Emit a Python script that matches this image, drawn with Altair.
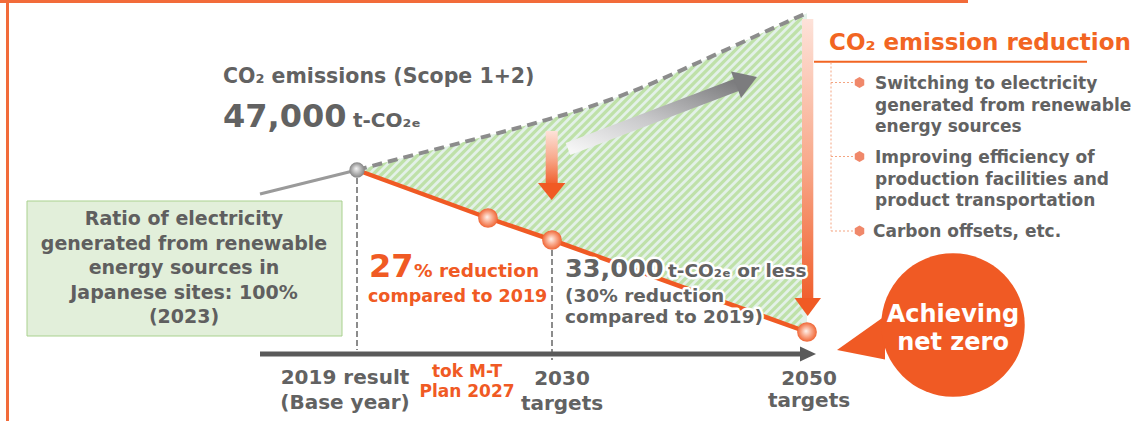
import altair as alt
import numpy as np
import pandas as pd

W, H = 1139, 421

# ---------------- data (diagram units: x along the timeline, y down the page) ----------------
past_x = [260, 357]
past_y = [194, 170]

bau_x = [357, 400, 460, 540, 590, 640, 700, 780, 807]
bau_y = [170, 158.5, 143, 121.7, 106.7, 88.3, 61.7, 25, 13]

target_x = [357, 488, 552, 807]
target_y = [170, 218, 240, 332]

milestone_x = [357, 552]
milestone_top = [178, 250]
milestone_bot = [350, 360]

axis_x = [260, 802]
axis_y = 354

bullet_y = [82.5, 156.5, 231]

ORANGE = "#f05a24"
GRAY = "#626262"
FONT = "DejaVu Sans"

xs = alt.Scale(domain=[0, W], nice=False, zero=False)
ys = alt.Scale(domain=[H, 0], nice=False, zero=False)


def X(f="x"):
    return alt.X(f"{f}:Q", scale=xs, axis=None)


def Y(f="y"):
    return alt.Y(f"{f}:Q", scale=ys, axis=None)


layers = []

# green box
box = pd.DataFrame({"x": [27], "x2": [342], "y": [201], "y2": [336]})
layers.append(alt.Chart(box).mark_rect(fill="#e2efda", stroke="#a9d18e", strokeWidth=1).encode(
    x=X(), x2="x2:Q", y=Y(), y2="y2:Q"))

# reduction area: pale background
bau = pd.DataFrame({"x": bau_x, "y": bau_y, "floor": [338] * len(bau_x)})
layers.append(alt.Chart(bau).mark_area(color="#e3f1e8", opacity=1).encode(x=X(), y=Y(), y2="floor:Q"))

# hatch stripes (decoration) inside the bounding box, then masked
hx0, hx1, hy0, hy1 = 357, 802, 12, 336
rows = []
for c in np.arange(hx0 + hy0, hx1 + hy1, 8.5):
    xa = max(hx0, c - hy1)
    xb = min(hx1, c - hy0)
    if xb > xa:
        rows.append({"x": xa, "y": c - xa, "x2": xb, "y2": c - xb})
hatch = pd.DataFrame(rows)
layers.append(alt.Chart(hatch).mark_rule(color="#bfe1a9", strokeWidth=3.2).encode(
    x=X(), y=Y(), x2="x2:Q", y2="y2:Q"))

# white masks above the BAU curve and below the target path (extended a little to the left)
mask_top = pd.DataFrame({"x": [346] + bau_x, "y": [173] + bau_y, "top": [0] * (len(bau_x) + 1)})
layers.append(alt.Chart(mask_top).mark_area(color="white", opacity=1).encode(x=X(), y=Y(), y2="top:Q"))
tgt = pd.DataFrame({"x": target_x, "y": target_y})
mask_bot = pd.DataFrame({"x": [346] + target_x, "y": [167] + target_y, "floor": [342] * (len(target_x) + 1)})
layers.append(alt.Chart(mask_bot).mark_area(color="white", opacity=1).encode(x=X(), y=Y(), y2="floor:Q"))

# orange frame (top and left edges)
frame = pd.DataFrame({"x": [0, 7.5], "x2": [968, 7.5], "y": [1.5, 0], "y2": [1.5, 421]})
layers.append(alt.Chart(frame).mark_rule(color="#f26b3a", strokeWidth=3).encode(
    x=X(), x2="x2:Q", y=Y(), y2="y2:Q"))

# milestone dashed verticals
ms = pd.DataFrame({"x": milestone_x, "y": milestone_top, "y2": milestone_bot})
layers.append(alt.Chart(ms).mark_rule(color="#8c8c8c", strokeWidth=2, strokeDash=[6, 3]).encode(
    x=X(), y=Y(), y2="y2:Q"))

# past trend line
past = pd.DataFrame({"x": past_x, "y": past_y})
layers.append(alt.Chart(past).mark_line(color="#9a9a9a", strokeWidth=3).encode(x=X(), y=Y()))

# BAU dashed curve
layers.append(alt.Chart(bau).mark_line(color="#8c8c8c", strokeWidth=4, strokeDash=[10, 6],
                                       interpolate="monotone").encode(x=X(), y=Y()))

# target path
layers.append(alt.Chart(tgt).mark_line(color=ORANGE, strokeWidth=4.5).encode(x=X(), y=Y()))

# timeline axis + arrowhead
ax = pd.DataFrame({"x": [axis_x[0]], "x2": [axis_x[1]], "y": [axis_y]})
layers.append(alt.Chart(ax).mark_rule(color="#5a5a5a", strokeWidth=5).encode(x=X(), x2="x2:Q", y=Y()))
axh = pd.DataFrame({"x": [800, 816], "y": [346.5, 354], "y2": [361.5, 354]})
layers.append(alt.Chart(axh).mark_area(color="#5a5a5a", opacity=1).encode(x=X(), y=Y(), y2="y2:Q"))

# gray gradient arrow
gshaft = pd.DataFrame({"x": [568, 739], "y": [149, 84]})
layers.append(alt.Chart(gshaft).mark_line(
    strokeWidth=13, strokeCap="butt",
    stroke=alt.Gradient(gradient="linear", x1=0, y1=1, x2=1, y2=0,
                        stops=[alt.GradientStop(offset=0, color="#f6f6f6"),
                               alt.GradientStop(offset=0.45, color="#c9c9cb"),
                               alt.GradientStop(offset=1, color="#7c7c7e")])).encode(x=X(), y=Y()))
ghead = pd.DataFrame({"x": [731, 741, 757], "y": [71.5, 73.6, 77], "y2": [71.5, 98, 77]})
layers.append(alt.Chart(ghead).mark_area(color="#7c7c7e", opacity=1).encode(x=X(), y=Y(), y2="y2:Q"))

# orange gradient arrows (small at 2030, large at 2050)
shafts = pd.DataFrame({"x": [545.7, 802], "x2": [557.7, 813.3], "y": [131, 19], "y2": [184, 299]})
layers.append(alt.Chart(shafts).mark_rect(
    fill=alt.Gradient(gradient="linear", x1=0, y1=0, x2=0, y2=1,
                      stops=[alt.GradientStop(offset=0, color="#fde2d9"),
                             alt.GradientStop(offset=0.5, color="#f8ab8e"),
                             alt.GradientStop(offset=1, color="#f0602e")])).encode(
    x=X(), x2="x2:Q", y=Y(), y2="y2:Q"))
sh = pd.DataFrame({"x": [538, 551.7, 565.5], "y": [183, 183, 183], "y2": [183, 200, 183]})
layers.append(alt.Chart(sh).mark_area(color=ORANGE, opacity=1).encode(x=X(), y=Y(), y2="y2:Q"))
bh = pd.DataFrame({"x": [794.5, 807.7, 821], "y": [298, 298, 298], "y2": [298, 316, 298]})
layers.append(alt.Chart(bh).mark_area(color=ORANGE, opacity=1).encode(x=X(), y=Y(), y2="y2:Q"))

# spheres
base_pt = pd.DataFrame({"x": [target_x[0]], "y": [target_y[0]]})
layers.append(alt.Chart(base_pt).mark_circle(
    size=235, opacity=1,
    fill=alt.RadialGradient(gradient="radial", x1=0.45, y1=0.4, r1=0, x2=0.5, y2=0.5, r2=0.5,
                            stops=[alt.GradientStop(offset=0, color="#f4f4f4"),
                                   alt.GradientStop(offset=1, color="#858585")])).encode(x=X(), y=Y()))
orb = pd.DataFrame({"x": target_x[1:], "y": target_y[1:]})
layers.append(alt.Chart(orb).mark_circle(
    size=390, opacity=1,
    fill=alt.RadialGradient(gradient="radial", x1=0.45, y1=0.45, r1=0, x2=0.5, y2=0.5, r2=0.5,
                            stops=[alt.GradientStop(offset=0, color="#fff1ea"),
                                   alt.GradientStop(offset=0.55, color="#f8a282"),
                                   alt.GradientStop(offset=1, color="#ef6434")])).encode(x=X(), y=Y()))

# right panel: underline, dotted connectors, hexagon bullets
ul = pd.DataFrame({"x": [814], "x2": [1087], "y": [61.7]})
layers.append(alt.Chart(ul).mark_rule(color="#f26522", strokeWidth=2).encode(x=X(), x2="x2:Q", y=Y()))
conn = pd.DataFrame({
    "x": [831] + [831] * len(bullet_y),
    "x2": [831] + [854] * len(bullet_y),
    "y": [62.5] + bullet_y,
    "y2": [bullet_y[-1]] + bullet_y,
})
layers.append(alt.Chart(conn).mark_rule(color="#f4a582", strokeWidth=1, strokeDash=[2, 2]).encode(
    x=X(), x2="x2:Q", y=Y(), y2="y2:Q"))
bul = pd.DataFrame({"x": [859.5] * len(bullet_y), "y": bullet_y})
hexagon = "M0,-1 L0.866,-0.5 L0.866,0.5 L0,1 L-0.866,0.5 L-0.866,-0.5 Z"
layers.append(alt.Chart(bul).mark_point(shape=hexagon, filled=True, size=120, opacity=1,
                                        color="#f0886a").encode(x=X(), y=Y()))

# speech bubble
tail = pd.DataFrame({"x": [837, 885], "y": [350, 316], "y2": [350, 359.6]})
layers.append(alt.Chart(tail).mark_area(color=ORANGE, opacity=1).encode(x=X(), y=Y(), y2="y2:Q"))
bubble = pd.DataFrame({"x": [953], "y": [325]})
layers.append(alt.Chart(bubble).mark_circle(size=20600, opacity=1, color=ORANGE).encode(x=X(), y=Y()))

# ---------------- texts ----------------
left_texts = [
    # x, y, text, size, color
    (223, 83, "CO₂ emissions (Scope 1+2)", 20.5, GRAY),
    (223, 127, "47,000", 32, GRAY),
    (353, 127, "t-CO₂ₑ", 20, GRAY),
    (369, 277, "27", 32, ORANGE),
    (414, 277, "% reduction", 18.5, ORANGE),
    (368, 301.5, "compared to 2019", 17.5, ORANGE),
    (829, 50, "CO₂ emission reduction", 23, "#f26522"),
    (875, 89, "Switching to electricity", 17, GRAY),
    (875, 110.5, "generated from renewable", 17, GRAY),
    (875, 132, "energy sources", 17, GRAY),
    (875, 163, "Improving efficiency of", 17, GRAY),
    (875, 184.5, "production facilities and", 17, GRAY),
    (875, 206, "product transportation", 17, GRAY),
    (873, 237, "Carbon offsets, etc.", 17, GRAY),
]
halo_texts = [
    (565, 277, "33,000", 25.5, GRAY),
    (668, 277, "t-CO₂ₑ or less", 18.5, GRAY),
    (565, 301.5, "(30% reduction", 18.5, GRAY),
    (565, 323, "compared to 2019)", 18.5, GRAY),
]
center_texts = [
    (184, 225, "Ratio of electricity", 19, "#5f5f5f"),
    (184, 249.5, "generated from renewable", 19, "#5f5f5f"),
    (184, 274, "energy sources in", 19, "#5f5f5f"),
    (184, 298.5, "Japanese sites: 100%", 19, "#5f5f5f"),
    (184, 323, "(2023)", 19, "#5f5f5f"),
    (345, 384, "2019 result", 20, GRAY),
    (345, 409, "(Base year)", 20, GRAY),
    (467, 377, "tok M-T", 17, ORANGE),
    (467, 396.5, "Plan 2027", 17, ORANGE),
    (562, 385, "2030", 20, GRAY),
    (562, 410, "targets", 20, GRAY),
    (809, 385, "2050", 20, GRAY),
    (809, 407, "targets", 20, GRAY),
    (953, 322, "Achieving", 24, "white"),
    (953, 349.5, "net zero", 24, "white"),
]


def tdf(rows):
    return pd.DataFrame(rows, columns=["x", "y", "text", "size", "color"])


def text_layer(rows, align, halo=False):
    base = alt.Chart(tdf(rows))
    if halo:
        mk = base.mark_text(align=align, baseline="alphabetic", font=FONT, fontWeight="bold",
                            stroke="white", strokeWidth=5, strokeJoin="round")
        return mk.encode(x=X(), y=Y(), text="text:N", size=alt.Size("size:Q", scale=None),
                         color=alt.value("white"))
    mk = base.mark_text(align=align, baseline="alphabetic", font=FONT, fontWeight="bold")
    return mk.encode(x=X(), y=Y(), text="text:N", size=alt.Size("size:Q", scale=None),
                     color=alt.Color("color:N", scale=None))


layers.append(text_layer(left_texts, "left"))
layers.append(text_layer(halo_texts, "left", halo=True))
layers.append(text_layer(halo_texts, "left"))
layers.append(text_layer(center_texts, "center"))

chart = alt.layer(*layers).properties(
    width=W, height=H, padding=0, autosize=alt.AutoSizeParams(type="none"), background="white"
).configure_view(stroke=None)

chart.save("out.html", embed_options={"renderer": "svg", "actions": False})
